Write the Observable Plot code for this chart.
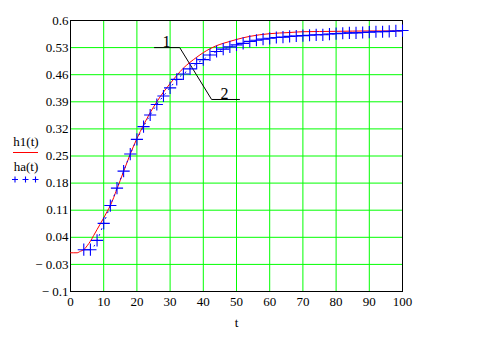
<!DOCTYPE html>
<html>
<head>
<meta charset="utf-8">
<script src="https://cdn.jsdelivr.net/npm/d3@7"></script>
<script src="https://cdn.jsdelivr.net/npm/@observablehq/plot@0.6"></script>
<style>
  html, body { margin: 0; padding: 0; background: white; }
  #chart { position: relative; width: 484px; height: 345px; }
  #chart svg text { font-family: "Liberation Serif", "Times New Roman", serif; }
</style>
</head>
<body>
<div id="chart"></div>
<script>
// h1(t) – red curve
const tH = [0, 2, 3, 4, 5, 6, 7, 8, 9, 10, 11, 12, 14, 16, 18, 20, 22, 24, 26, 28, 30, 32, 34, 36, 38, 40, 42, 44, 46, 48, 50, 54, 60, 66, 70, 80, 90, 100];
const h1 = [0, 0.0, 0.004, 0.008, 0.018, 0.030, 0.045, 0.060, 0.075, 0.090, 0.106, 0.122, 0.165, 0.210, 0.255, 0.295, 0.330, 0.362, 0.390, 0.415, 0.437, 0.458, 0.477, 0.492, 0.505, 0.517, 0.527, 0.535, 0.541, 0.546, 0.551, 0.559, 0.566, 0.569, 0.571, 0.572, 0.573, 0.573];

// ha(t) – blue crosses
const tA = [4, 6, 8, 10, 12, 14, 16, 18, 20, 22, 24, 26, 28, 30, 32, 34, 36, 38, 40, 42, 44, 46, 48, 50, 52, 54, 56, 58, 60, 62, 64, 66, 68, 70, 72, 74, 76, 78, 80, 82, 84, 86, 88, 90, 92, 94, 96, 98, 100];
const ha = [0.008, 0.008, 0.032, 0.076, 0.122, 0.167, 0.211, 0.255, 0.293, 0.326, 0.356, 0.383, 0.405, 0.426, 0.448, 0.462, 0.475, 0.489, 0.499, 0.511, 0.520, 0.526, 0.532, 0.537, 0.541, 0.546, 0.549, 0.552, 0.554, 0.556, 0.557, 0.559, 0.560, 0.561, 0.562, 0.563, 0.563, 0.565, 0.566, 0.567, 0.568, 0.568, 0.569, 0.570, 0.571, 0.571, 0.572, 0.573, 0.574];

// axes
const xTicks = [0, 10, 20, 30, 40, 50, 60, 70, 80, 90, 100];
const yTicks = [-0.1, -0.03, 0.04, 0.11, 0.18, 0.25, 0.32, 0.39, 0.46, 0.53, 0.6];
const yTickLabels = ["\u2212 0.1", "\u2212 0.03", "0.04", "0.11", "0.18", "0.25", "0.32", "0.39", "0.46", "0.53", "0.6"];
const xLabel = "t";

// annotation leader lines (data units)
const leaderT = [25.3, 32.9, 42.5, 50.9];
const leaderV = [0.53, 0.53, 0.396, 0.396];
const noteText = ["1", "2"];
const noteT = [28.9, 46.4];
const noteV = [0.532, 0.398];

// legend
const legendNames = ["h1(t)", "ha(t)"];

const red = "#ff0000", blue = "#0000ff", green = "#00ff00";
const font = "Liberation Serif";

const hData = tH.map((t, i) => ({t, v: h1[i]}));
const aData = tA.map((t, i) => ({t, v: ha[i]}));
const leader = leaderT.map((t, i) => ({t, v: leaderV[i]}));
const notes = noteText.map((s, i) => ({s, t: noteT[i], v: noteV[i]}));

const chart = Plot.plot({
  width: 484,
  height: 345,
  marginLeft: 70,
  marginRight: 82,
  marginTop: 20,
  marginBottom: 54,
  style: {fontFamily: font, fontSize: "13px", color: "black", background: "white"},
  x: {domain: [0, 100]},
  y: {domain: [-0.1, 0.6]},
  marks: [
    Plot.gridX(xTicks, {stroke: green, strokeOpacity: 1, strokeWidth: 1}),
    Plot.gridY(yTicks, {stroke: green, strokeOpacity: 1, strokeWidth: 1}),
    Plot.frame({stroke: "black", strokeWidth: 1}),
    Plot.line(leader, {x: "t", y: "v", stroke: "black", strokeWidth: 1}),
    Plot.text(notes, {x: "t", y: "v", text: "s", lineAnchor: "bottom", fontSize: 16, fill: "black", fontFamily: font}),
    Plot.line(hData, {x: "t", y: "v", stroke: red, strokeWidth: 1, curve: "monotone-x"}),
    Plot.line(aData, {x: "t", y: "v", stroke: blue, strokeWidth: 1, strokeDasharray: "1,5", curve: "monotone-x"}),
    Plot.dot(aData, {x: "t", y: "v", symbol: "plus", r: 4, stroke: blue, strokeWidth: 1.1}),
    Plot.axisX(xTicks, {tickSize: 0, tickPadding: 5, label: null, fontFamily: font, tickFormat: d => String(d)}),
    Plot.axisY(yTicks, {tickSize: 0, tickPadding: 2, label: null, fontFamily: font, tickFormat: d => yTickLabels[yTicks.indexOf(d)]}),
    Plot.text([xLabel], {frameAnchor: "bottom", dy: 31, lineAnchor: "middle", fontFamily: font})
  ]
});

document.getElementById("chart").appendChild(chart);

// legend on the left side
const svg = d3.select(chart);
const g = svg.append("g").attr("font-family", font).attr("font-size", 13).attr("fill", "black");
g.append("text").attr("x", 26).attr("y", 141).attr("text-anchor", "middle").attr("dominant-baseline", "central").text(legendNames[0]);
g.append("line").attr("x1", 13).attr("x2", 38).attr("y1", 152.5).attr("y2", 152.5).attr("stroke", red).attr("stroke-width", 1);
g.append("text").attr("x", 26).attr("y", 166).attr("text-anchor", "middle").attr("dominant-baseline", "central").text(legendNames[1]);
[15, 25.5, 35.5].forEach(cx => {
  g.append("path")
    .attr("d", `M${cx - 3},179.5H${cx + 3}M${cx},176.5V${182.5}`)
    .attr("stroke", blue).attr("stroke-width", 1.1).attr("fill", "none");
});
</script>
</body>
</html>
